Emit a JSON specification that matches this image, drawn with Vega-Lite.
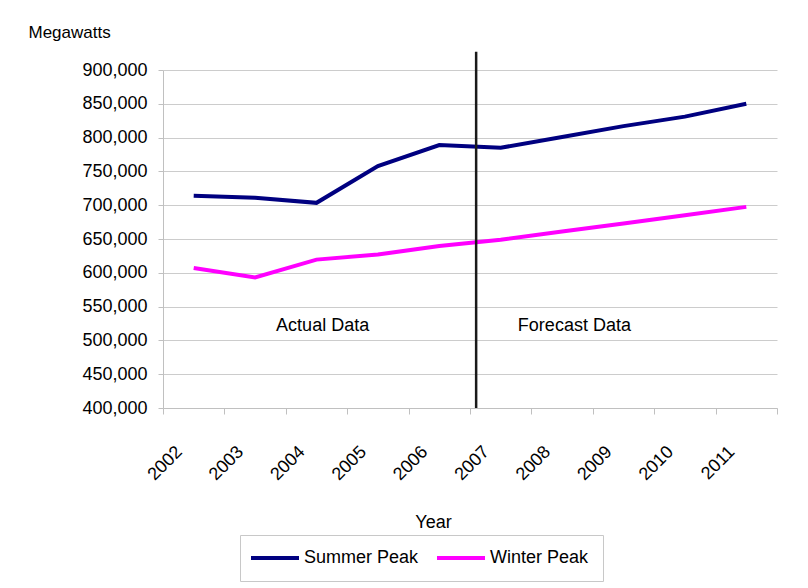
{
  "$schema": "https://vega.github.io/schema/vega-lite/v6.json",
  "autosize": {"type": "none"},
  "padding": {"left": 163, "top": 70, "right": 31, "bottom": 180},
  "width": 614,
  "height": 338,
  "background": "white",
  "config": {
    "font": "Liberation Sans",
    "view": {"stroke": null},
    "axis": {"labelFont": "Liberation Sans", "titleFont": "Liberation Sans", "labelColor": "#000", "titleColor": "#000", "titleFontWeight": "normal"}
  },
  "encoding": {
    "x": {
      "field": "year",
      "type": "quantitative",
      "scale": {"domain": [2001.5, 2011.5], "nice": false, "zero": false},
      "axis": {
        "title": "Year",
        "titleFontSize": 18,
        "titleX": 270,
        "titleY": 119,
        "titleBaseline": "alphabetic",
        "values": [2001.5, 2002.5, 2003.5, 2004.5, 2005.5, 2006.5, 2007.5, 2008.5, 2009.5, 2010.5, 2011.5],
        "labelExpr": "datum.value < 2011 ? '' + (datum.value + 0.5) : ''",
        "labelAngle": -45,
        "labelAlign": "right",
        "labelBaseline": "middle",
        "labelFontSize": 18,
        "labelPadding": 35,
        "labelOffset": 16,
        "labelOverlap": false,
        "labelBound": false,
        "grid": false,
        "domainColor": "#c0c0c0",
        "tickColor": "#c0c0c0",
        "tickSize": 6
      }
    },
    "y": {
      "field": "mw",
      "type": "quantitative",
      "scale": {"domain": [400000, 900000], "nice": false, "zero": false},
      "axis": {
        "title": "Megawatts",
        "titleAngle": 0,
        "titleAlign": "left",
        "titleBaseline": "alphabetic",
        "titleX": -135,
        "titleY": -33,
        "titleFontSize": 17,
        "values": [400000, 450000, 500000, 550000, 600000, 650000, 700000, 750000, 800000, 850000, 900000],
        "format": ",d",
        "labelFontSize": 18,
        "labelPadding": 11,
        "tickSize": 5,
        "grid": true,
        "gridColor": "#cccccc",
        "domainColor": "#c0c0c0",
        "tickColor": "#c0c0c0"
      }
    }
  },
  "layer": [
    {
      "data": {
        "values": [
          {"year": 2002, "series": "Summer Peak", "mw": 714000},
          {"year": 2003, "series": "Summer Peak", "mw": 711000},
          {"year": 2004, "series": "Summer Peak", "mw": 703500},
          {"year": 2005, "series": "Summer Peak", "mw": 758000},
          {"year": 2006, "series": "Summer Peak", "mw": 789000},
          {"year": 2007, "series": "Summer Peak", "mw": 785000},
          {"year": 2008, "series": "Summer Peak", "mw": 801000},
          {"year": 2009, "series": "Summer Peak", "mw": 817000},
          {"year": 2010, "series": "Summer Peak", "mw": 831000},
          {"year": 2011, "series": "Summer Peak", "mw": 850000},
          {"year": 2002, "series": "Winter Peak", "mw": 607000},
          {"year": 2003, "series": "Winter Peak", "mw": 593000},
          {"year": 2004, "series": "Winter Peak", "mw": 619500},
          {"year": 2005, "series": "Winter Peak", "mw": 627000},
          {"year": 2006, "series": "Winter Peak", "mw": 639500},
          {"year": 2007, "series": "Winter Peak", "mw": 649000},
          {"year": 2008, "series": "Winter Peak", "mw": 661000},
          {"year": 2009, "series": "Winter Peak", "mw": 673000},
          {"year": 2010, "series": "Winter Peak", "mw": 685000},
          {"year": 2011, "series": "Winter Peak", "mw": 697500}
        ]
      },
      "mark": {"type": "line", "strokeWidth": 4},
      "encoding": {
        "color": {
          "field": "series",
          "type": "nominal",
          "scale": {"domain": ["Summer Peak", "Winter Peak"], "range": ["#000080", "#ff00ff"]},
          "legend": {
            "title": null,
            "orient": "none",
            "direction": "horizontal",
            "legendX": 77,
            "legendY": 465,
            "padding": 14,
            "strokeColor": "#c8c8c8",
            "fillColor": "white",
            "symbolType": "M-2,0H6",
            "symbolSize": 144,
            "symbolStrokeWidth": 4,
            "labelFont": "Liberation Sans",
            "labelFontSize": 18,
            "labelColor": "#000",
            "labelOffset": 32,
            "columnPadding": 10
          }
        }
      }
    },
    {
      "data": {"values": [{"year": 2006.6, "mw": 400000, "top": 927000}]},
      "mark": {"type": "rule", "color": "#1a1a1a", "strokeWidth": 2.5},
      "encoding": {
        "y2": {"field": "top"}
      }
    },
    {
      "data": {"values": [{"note": "Actual Data", "year": 2004.1, "mw": 522000}, {"note": "Forecast Data", "year": 2008.2, "mw": 522000}]},
      "mark": {"type": "text", "fontSize": 18, "font": "Liberation Sans", "color": "#000", "baseline": "middle", "align": "center"},
      "encoding": {
        "text": {"field": "note"}
      }
    }
  ]
}
